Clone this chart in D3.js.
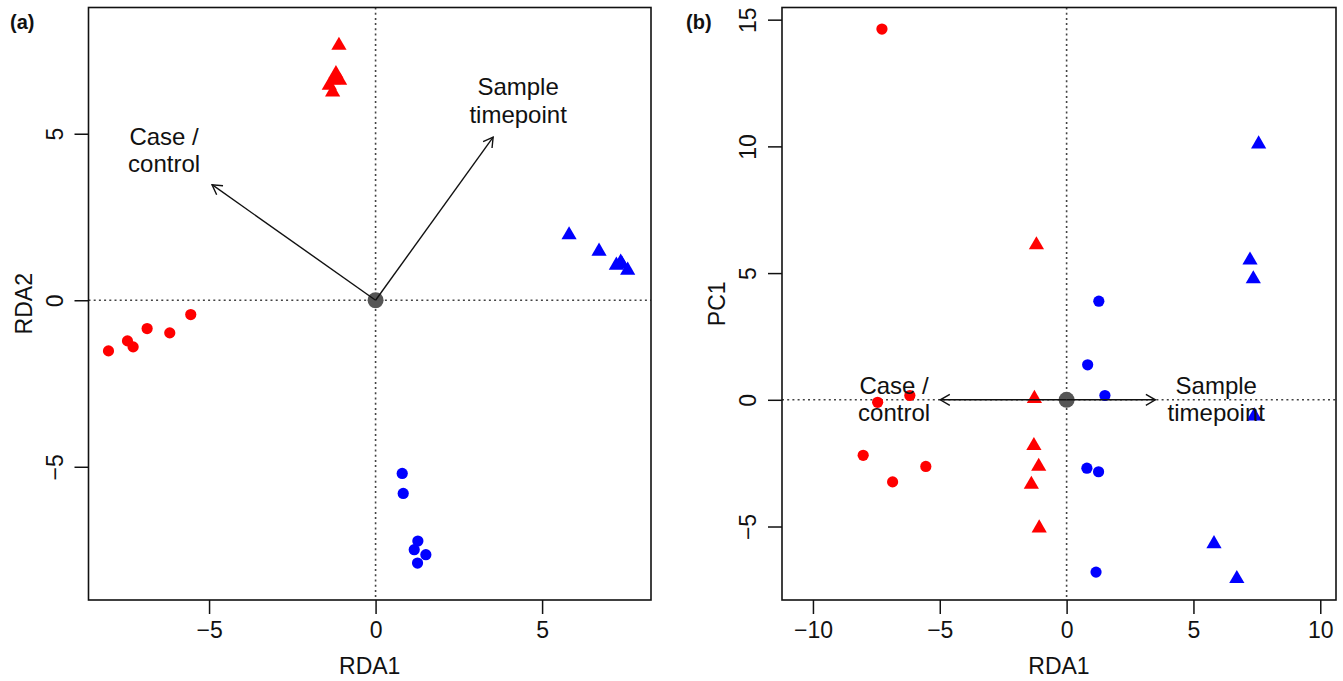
<!DOCTYPE html>
<html>
<head>
  <meta charset="utf-8" />
  <title>RDA biplots</title>
  <script src="https://d3js.org/d3.v7.min.js"></script>
  <style>
    body { margin: 0; background: #fff; }
    svg text { font-family: "Liberation Sans", Arial, Helvetica, sans-serif; fill: #111; }
    .zero { stroke: #444; stroke-width: 1.6; stroke-dasharray: 2,3.2; fill: none; }
    .box { fill: none; stroke: #111; stroke-width: 1.6; }
    .arrow { stroke: #111; stroke-width: 1.4; fill: none; }
    .axis path { display: none; }
    .axis line { stroke: #111; stroke-width: 1.5; }
    .axis text { font-size: 23px; }
  </style>
</head>
<body>
<script>
  // - - - - - DATA - - - - - //
  // red = case/control group one, blue = the other; circle / triangle = sample timepoint
  var redCircRDA1 = [-8.02, -7.45, -7.28, -6.86, -6.18, -5.55];
  var redCircRDA2 = [-1.52, -1.22, -1.40, -0.85, -0.98, -0.43];
  var redCircPC1  = [-2.19, -0.10, 14.63, -3.24, 0.17, -2.63];

  var redTriRDA1 = [-1.10, -1.19, -1.27, -1.08, -1.39, -1.29];
  var redTriRDA2 = [7.65, 6.80, 6.62, 6.60, 6.45, 6.25];
  var redTriPC1  = [-2.63, 6.11, 0.05, -5.06, -3.34, -1.81];

  var blueCircRDA1 = [0.80, 0.83, 1.27, 1.16, 1.51, 1.26];
  var blueCircRDA2 = [-5.20, -5.80, -7.23, -7.49, -7.64, -7.89];
  var blueCircPC1  = [-2.70, 1.38, 3.89, -6.80, 0.17, -2.84];

  var blueTriRDA1 = [5.81, 6.71, 7.23, 7.36, 7.40, 7.57];
  var blueTriRDA2 = [1.96, 1.47, 1.05, 1.14, 1.08, 0.90];
  var blueTriPC1  = [-5.68, -7.06, 5.51, 4.77, -0.64, 10.09];

  // biplot arrows (x, y) for each panel
  var arrowNames = [["Case /", "control"], ["Sample", "timepoint"]];
  var arrowsA = [[-4.91, 3.47], [3.53, 4.90]];
  var labelsA = [[-6.35, 4.46], [4.28, 5.94]];
  var arrowsB = [[-4.98, 0], [3.50, 0]];
  var labelsB = [[-6.80, -0.05], [5.90, -0.05]];

  var xTicksA = [-5, 0, 5], yTicksA = [-5, 0, 5];
  var xTicksB = [-10, -5, 0, 5, 10], yTicksB = [-5, 0, 5, 10, 15];

  // - - - - - SETUP - - - - - //
  var W = 1343, H = 681;
  var svg = d3.select("body").append("svg")
      .attr("width", W)
      .attr("height", H);

  function zip(xs, ys) {
    return xs.map(function(x, i) { return [x, ys[i]]; });
  }

  var groups = function(ySel) {
    return [
      {color: "#ff0000", shape: "circle", pts: zip(redCircRDA1, ySel.redCirc)},
      {color: "#ff0000", shape: "tri",    pts: zip(redTriRDA1, ySel.redTri)},
      {color: "#0000ff", shape: "circle", pts: zip(blueCircRDA1, ySel.blueCirc)},
      {color: "#0000ff", shape: "tri",    pts: zip(blueTriRDA1, ySel.blueTri)}
    ];
  };

  function drawPanel(o) {
    var x = d3.scaleLinear().domain(o.xDom).range([o.left, o.right]);
    var y = d3.scaleLinear().domain(o.yDom).range([o.bottom, o.top]);
    var g = svg.append("g");

    // zero lines
    g.append("line").attr("class", "zero")
      .attr("x1", o.left).attr("x2", o.right)
      .attr("y1", y(0)).attr("y2", y(0));
    g.append("line").attr("class", "zero")
      .attr("x1", x(0)).attr("x2", x(0))
      .attr("y1", o.top).attr("y2", o.bottom);

    // points
    var tri = d3.symbol().type(d3.symbolTriangle).size(100);
    o.groups.forEach(function(grp) {
      if (grp.shape == "circle") {
        g.selectAll(null).data(grp.pts).enter().append("circle")
          .attr("cx", function(d) { return x(d[0]); })
          .attr("cy", function(d) { return y(d[1]); })
          .attr("r", 5.6)
          .attr("fill", grp.color);
      } else {
        g.selectAll(null).data(grp.pts).enter().append("path")
          .attr("d", tri)
          .attr("transform", function(d) { return "translate(" + x(d[0]) + "," + y(d[1]) + ")"; })
          .attr("fill", grp.color);
      }
    });

    // centroid
    g.append("circle")
      .attr("cx", x(0)).attr("cy", y(0)).attr("r", 8)
      .attr("fill", "#555");

    // arrows
    o.arrows.forEach(function(a) {
      var x0 = x(0), y0 = y(0), x1 = x(a[0]), y1 = y(a[1]);
      var ang = Math.atan2(y1 - y0, x1 - x0), len = 11, spread = Math.PI / 6;
      g.append("line").attr("class", "arrow")
        .attr("x1", x0).attr("y1", y0).attr("x2", x1).attr("y2", y1);
      g.append("path").attr("class", "arrow")
        .attr("d", "M" + (x1 - len * Math.cos(ang - spread)) + "," + (y1 - len * Math.sin(ang - spread)) +
                   "L" + x1 + "," + y1 +
                   "L" + (x1 - len * Math.cos(ang + spread)) + "," + (y1 - len * Math.sin(ang + spread)));
    });

    // arrow labels
    o.labels.forEach(function(l, i) {
      var t = g.append("text")
        .attr("x", x(l[0])).attr("y", y(l[1]))
        .attr("text-anchor", "middle")
        .style("font-size", "24px");
      t.append("tspan").attr("x", x(l[0])).attr("dy", "-0.3em").text(arrowNames[i][0]);
      t.append("tspan").attr("x", x(l[0])).attr("dy", "1.15em").text(arrowNames[i][1]);
    });

    // box
    g.append("rect").attr("class", "box")
      .attr("x", o.left).attr("y", o.top)
      .attr("width", o.right - o.left).attr("height", o.bottom - o.top);

    // axes
    g.append("g").attr("class", "axis")
      .attr("transform", "translate(0," + o.bottom + ")")
      .call(d3.axisBottom(x).tickValues(o.xTicks).tickSize(14).tickPadding(8).tickFormat(d3.format("d")));

    var ya = g.append("g").attr("class", "axis")
      .attr("transform", "translate(" + o.left + ",0)")
      .call(d3.axisLeft(y).tickValues(o.yTicks).tickSize(14).tickFormat(d3.format("d")));
    ya.selectAll(".tick text")
      .attr("transform", "rotate(-90)")
      .attr("x", 0).attr("y", -34)
      .attr("dy", "0.35em")
      .attr("text-anchor", "middle");

    // axis titles
    g.append("text")
      .attr("x", (o.left + o.right) / 2).attr("y", o.bottom + 66)
      .attr("dy", "0.35em")
      .attr("text-anchor", "middle")
      .style("font-size", "23px")
      .text(o.xTitle);
    g.append("text")
      .attr("transform", "translate(" + (o.left - 65) + "," + ((o.top + o.bottom) / 2) + ") rotate(-90)")
      .attr("dy", "0.35em")
      .attr("text-anchor", "middle")
      .style("font-size", "23px")
      .text(o.yTitle);

    // panel tag
    svg.append("text")
      .attr("x", o.tagX).attr("y", 22)
      .attr("dy", "0.35em")
      .style("font-size", "20px")
      .style("font-weight", "bold")
      .text(o.tag);
  }

  drawPanel({
    left: 88.5, right: 651, top: 7.5, bottom: 600,
    xDom: [-8.62, 8.27], yDom: [-9.0, 8.79],
    xTicks: xTicksA, yTicks: yTicksA,
    groups: groups({redCirc: redCircRDA2, redTri: redTriRDA2, blueCirc: blueCircRDA2, blueTri: blueTriRDA2}),
    arrows: arrowsA, labels: labelsA,
    xTitle: "RDA1", yTitle: "RDA2", tag: "(a)", tagX: 10
  });

  drawPanel({
    left: 782, right: 1336, top: 7.5, bottom: 600,
    xDom: [-11.22, 10.62], yDom: [-7.9, 15.48],
    xTicks: xTicksB, yTicks: yTicksB,
    groups: groups({redCirc: redCircPC1, redTri: redTriPC1, blueCirc: blueCircPC1, blueTri: blueTriPC1}),
    arrows: arrowsB, labels: labelsB,
    xTitle: "RDA1", yTitle: "PC1", tag: "(b)", tagX: 686
  });
</script>
</body>
</html>
